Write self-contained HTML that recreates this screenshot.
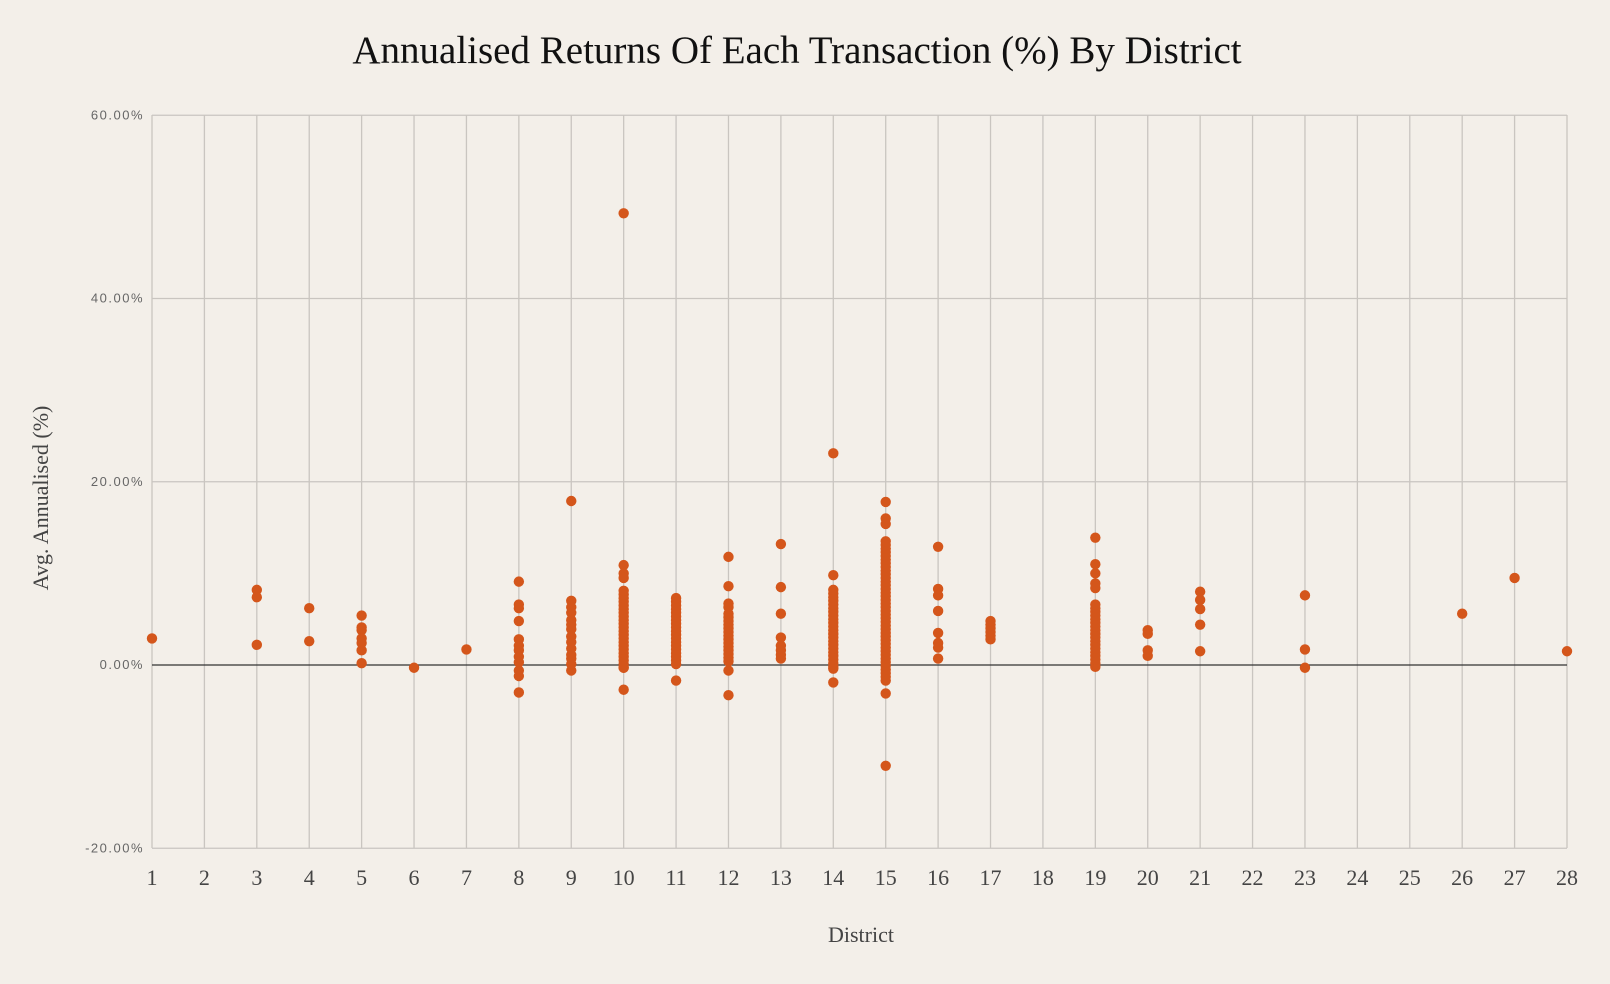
<!DOCTYPE html>
<html><head><meta charset="utf-8"><style>
body{margin:0;background:#f3efe9;}
svg{display:block}
</style></head><body>
<svg id="s" width="1610" height="984" xmlns="http://www.w3.org/2000/svg">
<rect width="1610" height="984" fill="#f3efe9"/>
<text x="797" y="63" text-anchor="middle" font-family="Liberation Serif, serif" font-size="39" fill="#111">Annualised Returns Of Each Transaction (%) By District</text>
<g id="grid"></g>
<g id="pts" fill="#d4561b"></g>
<text x="861" y="942" text-anchor="middle" font-family="Liberation Serif, serif" font-size="22" fill="#444">District</text>
<text transform="translate(48,498) rotate(-90)" text-anchor="middle" font-family="Liberation Serif, serif" font-size="22" fill="#444">Avg. Annualised (%)</text>
</svg>
<script>
const NS="http://www.w3.org/2000/svg";
const X0=152,X1=1567,Ytop=115,Ybot=848;
const dx=(X1-X0)/27;
const X=d=>X0+(d-1)*dx;
const Y=v=>665-(v)*(183.25/20);
const g=document.getElementById('grid');
function el(p,t,a,txt){const e=document.createElementNS(NS,t);for(const k in a)e.setAttribute(k,a[k]);if(txt!==undefined)e.textContent=txt;p.appendChild(e);return e;}
for(let d=1;d<=28;d++){el(g,'line',{x1:X(d),x2:X(d),y1:Ytop,y2:Ybot,stroke:'#c9c5c0','stroke-width':1.3});
el(g,'text',{x:X(d),y:885,'text-anchor':'middle','font-family':'Liberation Serif, serif','font-size':22,fill:'#444'},d);}
[60,40,20,0,-20].forEach(v=>{el(g,'line',{x1:X0,x2:X1,y1:Y(v),y2:Y(v),stroke:v==0?'#333':'#c9c5c0','stroke-width':1.3});
el(g,'text',{x:144,y:Y(v)+4,'text-anchor':'end','font-family':'Liberation Sans, sans-serif','font-size':13,fill:'#666','letter-spacing':'1.5'},v.toFixed(2)+'%');});
const data={1:[2.9],3:[8.2,7.4,2.2],4:[6.2,2.6],5:[5.4,4.1,3.8,2.9,2.4,1.6,0.2],6:[-0.3],7:[1.7],
8:[9.1,6.6,6.2,4.8,2.8,2.1,1.6,0.9,0.3,-0.6,-1.2,-3.0],
9:[17.9,7,6.3,5.7,4.9,4.4,3.9,3.1,2.5,1.8,1.1,0.7,0.1,-0.6],
10:[49.3,10.9,10,9.5,-0.3,-2.7,['r',-0.3,8.4]],
11:[-1.7,['r',0.1,7.6]],
12:[11.8,8.6,6.7,6.3,-0.6,-3.3,['r',0.4,5.6]],
13:[13.2,8.5,5.6,3,2.1,1.6,1.1,0.7],
14:[23.1,9.8,-0.4,-1.9,['r',-0.2,8.5]],
15:[17.8,16,15.4,-1.7,-3.1,-11,['r',-1.3,13.8]],
16:[12.9,8.3,7.6,5.9,3.5,2.4,1.9,0.7],
17:[['r',2.8,4.9]],
19:[13.9,11,10,8.9,8.4,['r',-0.2,6.6]],
20:[3.8,3.4,1.6,1],21:[8,7.1,6.1,4.4,1.5],23:[7.6,1.7,-0.3],26:[5.6],27:[9.5],28:[1.5]};
const p=document.getElementById('pts');
for(const d in data){data[d].forEach(v=>{
 if(Array.isArray(v)){for(let t=v[1];t<=v[2]+0.01;t+=0.4)el(p,'circle',{cx:X(+d),cy:Y(t),r:5.2});}
 else el(p,'circle',{cx:X(+d),cy:Y(v),r:5.2});});}
</script>
</body></html>
